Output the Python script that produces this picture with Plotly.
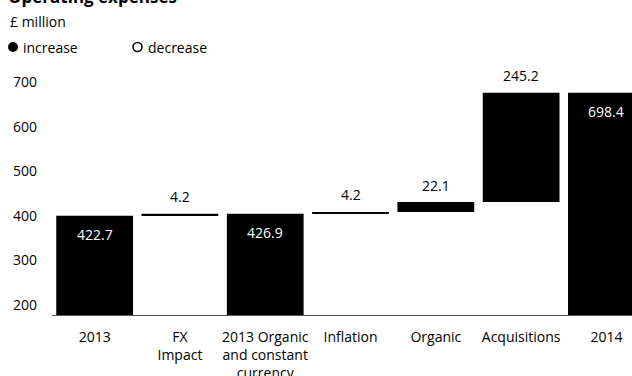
import plotly.graph_objects as go

# Operating expenses bridge, £ million
categories = ["2013", "FX<br>Impact", "2013 Organic<br>and constant<br>currency",
              "Inflation", "Organic", "Acquisitions", "2014"]
values = [422.7, 4.2, 426.9, 4.2, 22.1, 245.2, 698.4]
measures = ["total", "increase", "total", "increase", "increase", "increase", "total"]
y_ticks = [200, 300, 400, 500, 600, 700]

FONT = "Open Sans"
INK = "#000000"
SIZE = 14

# Plot area geometry in pixels, used to place header items in paper units
L, T, W, H = 52, 83, 580, 232


def px(x):
    return (x - L) / W


def py(y):
    return (T + H - y) / H


# Floating bars: totals start at zero, changes sit on the running total
bases, heights = [], []
running = 0.0
for v, m in zip(values, measures):
    if m == "total":
        bases.append(0.0)
        heights.append(v)
        running = v
    else:
        bases.append(running)
        heights.append(v)
        running += v

x_idx = list(range(len(categories)))

fig = go.Figure()
fig.add_trace(go.Bar(
    x=x_idx, y=heights, base=bases,
    marker=dict(color="#000000", line=dict(width=0)),
    width=0.9, showlegend=False, hoverinfo="skip",
))

# Value labels: totals inside the bar top in white, changes above the bar
for i, (v, m, b) in enumerate(zip(values, measures, bases)):
    top = b + v
    label = f"{v:.1f}"
    if m == "total":
        fig.add_annotation(x=i, y=top, xref="x", yref="y", text=label,
                           showarrow=False, yanchor="middle", yshift=-19,
                           font=dict(family=FONT, size=SIZE, color="#ffffff"))
    else:
        fig.add_annotation(x=i, y=top, xref="x", yref="y", text=label,
                           showarrow=False, yanchor="middle", yshift=17,
                           font=dict(family=FONT, size=SIZE, color=INK))

# Header: title and unit
fig.add_annotation(xref="paper", yref="paper", x=px(6), y=py(10),
                   xanchor="left", yanchor="bottom", showarrow=False,
                   text="<b>Operating expenses</b>",
                   font=dict(family=FONT, size=17, color=INK))
fig.add_annotation(xref="paper", yref="paper", x=px(8), y=py(22),
                   xanchor="left", yanchor="middle", showarrow=False,
                   text="£ million",
                   font=dict(family=FONT, size=SIZE, color=INK))

# Legend key: filled dot for increase, ring for decrease
fig.add_shape(type="circle", xref="paper", yref="paper",
              x0=px(8), x1=px(18), y0=py(52), y1=py(42),
              fillcolor=INK, line=dict(color=INK, width=0))
fig.add_annotation(xref="paper", yref="paper", x=px(21), y=py(47),
                   xanchor="left", yanchor="middle", showarrow=False,
                   text="increase", font=dict(family=FONT, size=SIZE, color=INK))
fig.add_shape(type="circle", xref="paper", yref="paper",
              x0=px(133), x1=px(142), y0=py(51.5), y1=py(42.5),
              fillcolor="#ffffff", line=dict(color=INK, width=1.6))
fig.add_annotation(xref="paper", yref="paper", x=px(146), y=py(47),
                   xanchor="left", yanchor="middle", showarrow=False,
                   text="decrease", font=dict(family=FONT, size=SIZE, color=INK))

fig.update_layout(
    width=632, height=376,
    margin=dict(l=L, r=0, t=T, b=376 - T - H),
    paper_bgcolor="#ffffff", plot_bgcolor="#ffffff",
    bargap=0.1,
    font=dict(family=FONT, size=SIZE, color=INK),
    xaxis=dict(
        tickmode="array", tickvals=x_idx, ticktext=categories,
        range=[-0.5, 6.3], showgrid=False, zeroline=False,
        showline=True, linecolor="#555555", linewidth=1,
        ticks="", ticklabelstandoff=9, automargin=False,
        tickfont=dict(family=FONT, size=SIZE, color=INK),
    ),
    yaxis=dict(
        range=[200, 720], tickvals=y_ticks, showgrid=False, zeroline=False,
        showline=False, ticks="", ticklabelposition="outside top",
        ticklabelstandoff=14, automargin=False,
        tickfont=dict(family=FONT, size=SIZE, color=INK),
    ),
)

fig.write_html("out.html")
